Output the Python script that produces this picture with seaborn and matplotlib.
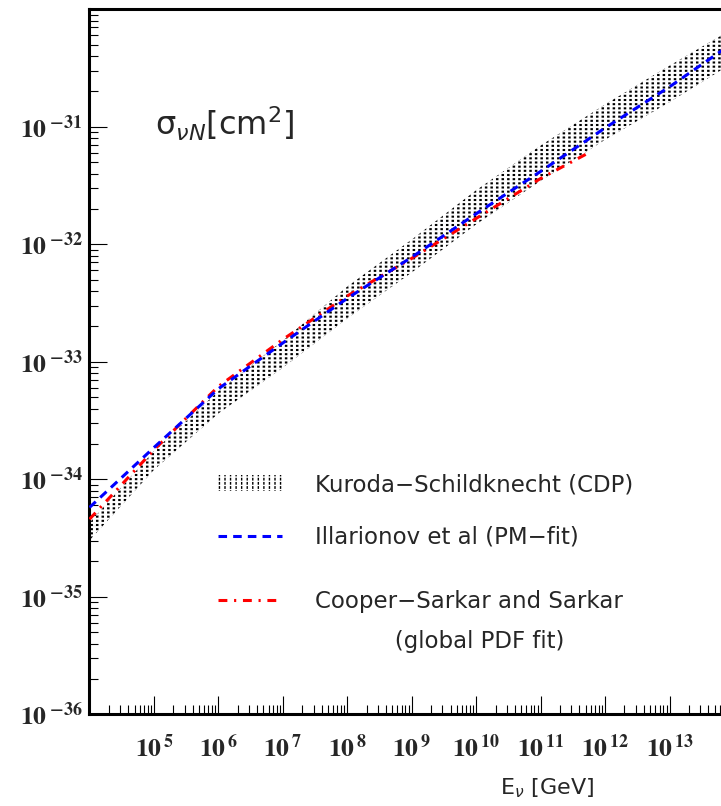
import numpy as np
import pandas as pd
import seaborn as sns
import matplotlib.pyplot as plt
import matplotlib.ticker as mticker
from matplotlib.patches import Patch
from matplotlib.lines import Line2D
from matplotlib.legend_handler import HandlerTuple

# log10(E_nu / GeV) and log10(sigma / cm^2)
log_e = [4, 5, 6, 7, 8, 9, 10, 11, 12, 13, 14]
cdp_upper = [-34.37, -33.76, -33.25, -32.82, -32.36, -31.96, -31.54, -31.16, -30.81, -30.48, -30.16]
cdp_lower = [-34.52, -33.92, -33.44, -33.05, -32.63, -32.24, -31.83, -31.46, -31.11, -30.79, -30.45]
pm_fit = [-34.24, -33.73, -33.23, -32.84, -32.46, -32.11, -31.74, -31.38, -31.01, -30.66, -30.28]

log_e_pdf = [4, 5, 6, 7, 8, 9, 10, 11, 11.75]
pdf_fit = [-34.34, -33.75, -33.21, -32.81, -32.44, -32.12, -31.78, -31.44, -31.22]

x_decades = [5, 6, 7, 8, 9, 10, 11, 12, 13]
y_decades = [-36, -35, -34, -33, -32, -31]

labels = ['Kuroda−Schildknecht (CDP)', 'Illarionov et al (PM−fit)',
          'Cooper−Sarkar and Sarkar', '           (global PDF fit)']

sns.set_theme(style='ticks')
plt.rcParams['font.family'] = ['DejaVu Sans']
plt.rcParams['mathtext.fontset'] = 'stix'

fig = plt.figure(figsize=(7.21, 8.06), dpi=100)
ax = fig.add_axes([0.1241, 0.1138, 0.8939, 0.8747])
ax.set_xscale('log')
ax.set_yscale('log')

energy = 10.0 ** np.array(log_e)
lo = 10.0 ** np.array(cdp_lower)
hi = 10.0 ** np.array(cdp_upper)

# dotted band: vertical hatch chopped by white horizontal hatch
with plt.rc_context({'hatch.linewidth': 1.8}):
    ax.fill_between(energy, lo, hi, facecolor='none', edgecolor='black',
                    hatch='|||', linewidth=0, zorder=1)
    band_a = Patch(facecolor='none', edgecolor='black', hatch='|||', linewidth=0)
with plt.rc_context({'hatch.linewidth': 1.5}):
    ax.fill_between(energy, lo, hi, facecolor='none', edgecolor='white',
                    hatch='----', linewidth=0, zorder=2)
    band_b = Patch(facecolor='none', edgecolor='white', hatch='----', linewidth=0)

df_pm = pd.DataFrame({'E': energy, 'sigma': 10.0 ** np.array(pm_fit)})
df_pdf = pd.DataFrame({'E': 10.0 ** np.array(log_e_pdf), 'sigma': 10.0 ** np.array(pdf_fit)})

dash = (0, (2.8, 2.0))
dashdot = (0, (2.9, 2.2, 0.7, 2.2))
sns.lineplot(data=df_pm, x='E', y='sigma', ax=ax, color='blue', lw=2.2,
             linestyle=dash, zorder=4)
sns.lineplot(data=df_pdf, x='E', y='sigma', ax=ax, color='red', lw=2.2,
             linestyle=dashdot, zorder=3)

ax.set_xlim(1e4, 1e14)
ax.set_ylim(1e-36, 1e-30)

ax.xaxis.set_major_locator(mticker.FixedLocator([10.0 ** d for d in x_decades]))
ax.xaxis.set_major_formatter(mticker.FixedFormatter(
    [r'$\mathbf{10}^{\,\mathbf{%d}}$' % d for d in x_decades]))
ax.yaxis.set_major_locator(mticker.FixedLocator([10.0 ** d for d in y_decades]))
ax.yaxis.set_major_formatter(mticker.FixedFormatter(
    [r'$\mathbf{10}^{\;\mathbf{%d}}$' % d for d in y_decades]))
for axis in (ax.xaxis, ax.yaxis):
    axis.set_minor_locator(mticker.LogLocator(base=10, subs=range(2, 10), numticks=60))
    axis.set_minor_formatter(mticker.NullFormatter())

ax.tick_params(which='both', direction='in', top=False, right=False,
               color='black', width=0.8)
ax.tick_params(which='major', length=13, labelsize=18.5)
ax.tick_params(which='minor', length=6.5)
ax.tick_params(axis='x', which='major', pad=15)
ax.tick_params(axis='y', which='major', pad=5)
for s in ax.spines.values():
    s.set_linewidth(2.2)
    s.set_color('black')

ax.text(0.1016, 0.837, 'σ$_{\\nu N}$[cm$^2$]', transform=ax.transAxes,
        fontsize=23, va='center', ha='left', math_fontfamily='dejavusans')

ax.set_xlabel(r'E$_{\nu}$ [GeV]', fontsize=16, math_fontfamily='dejavusans')
ax.xaxis.set_label_coords(0.71, -0.088)
ax.set_ylabel('')

blue_h = Line2D([], [], color='blue', lw=2.2, linestyle=dash)
red_h = Line2D([], [], color='red', lw=2.2, linestyle=dashdot)
blank_h = Line2D([], [], color='none')

leg_kw = dict(loc='upper left', frameon=False, fontsize=16.5, handlelength=2.8,
              handleheight=0.7, handletextpad=1.44, borderpad=0, borderaxespad=0,
              handler_map={tuple: HandlerTuple(ndivide=1, pad=0)})
leg1 = ax.legend([(band_a, band_b), blue_h], labels[:2],
                 bbox_to_anchor=(0.1994, 0.342), labelspacing=1.3, **leg_kw)
ax.add_artist(leg1)
ax.legend([red_h, blank_h], labels[2:], bbox_to_anchor=(0.1994, 0.176),
          labelspacing=0.72, **leg_kw)

fig.savefig('out.png', dpi=100)
